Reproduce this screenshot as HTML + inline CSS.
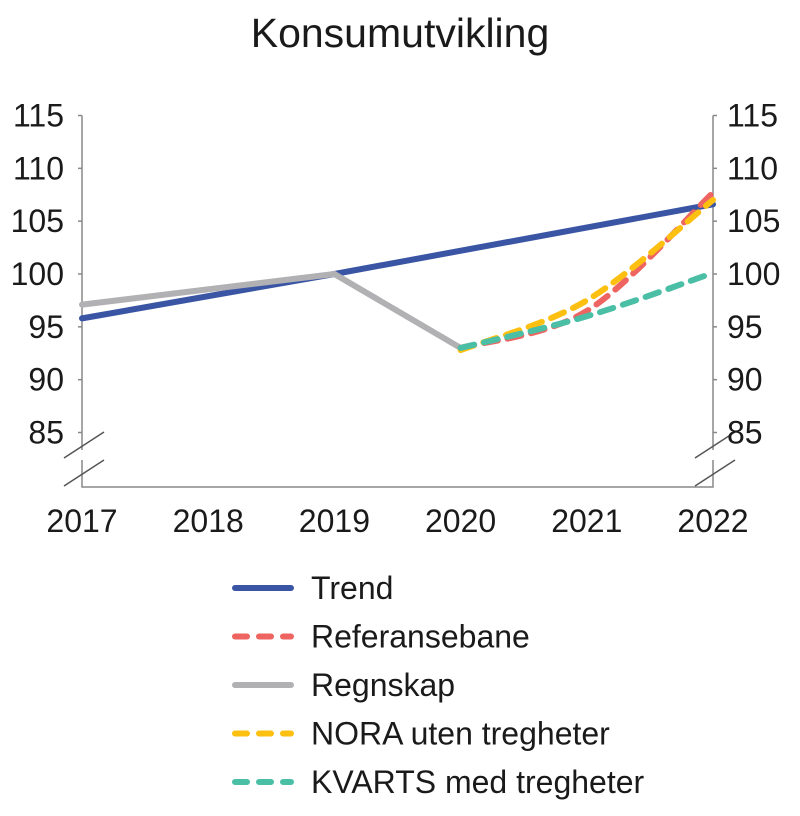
<!DOCTYPE html>
<html><head><meta charset="utf-8"><style>
body{margin:0;background:#fff;}
svg text{font-family:"Liberation Sans",sans-serif;fill:#1a1a1a;}
</style></head><body>
<svg width="800" height="811" viewBox="0 0 800 811">
<text x="400" y="47" font-size="41" text-anchor="middle">Konsumutvikling</text>
<g id="axes"></g>
<g id="series"></g>
<g id="legend"></g>
</svg>
<script>
const years=[2017,2018,2019,2020,2021,2022];
const yTicks=[85,90,95,100,105,110,115];
const trendX=[2017,2019,2022];
const trendY=[95.8,100,106.6];
const regnX=[2017,2019,2020];
const regnY=[97.1,100,93];
const refX=[2020,2021,2022];
const refY=[93,96.5,107.7];
const noraX=[2020,2021,2022];
const noraY=[92.8,97.5,107];
const kvX=[2020,2021,2022];
const kvY=[93,96,100.1];
const names=["Trend","Referansebane","Regnskap","NORA uten tregheter","KVARTS med tregheter"];

const NS="http://www.w3.org/2000/svg";
const x0=82,x1=713,yTop=115.5,yBot=432.5;
const xs=v=>x0+(v-2017)*(x1-x0)/5;
const ys=v=>yBot-(v-85)*(yBot-yTop)/30;
function mk(tag,attrs,parent){const e=document.createElementNS(NS,tag);for(const k in attrs)e.setAttribute(k,attrs[k]);parent.appendChild(e);return e;}
const axes=document.getElementById('axes');
let l=mk('path',{d:`M${x0},${yTop} V450 M${x0},460 V487 H${x1} V460 M${x1},450 V${yTop}`,stroke:'#888',fill:'none','stroke-width':1.5},axes);


[x0,x1].forEach(x=>{
 const b=mk('path',{d:`M${x-18},458 L${x+22},432 M${x-18},486 L${x+22},460`,stroke:'#555','stroke-width':1.5,fill:'none'},axes);
 
 
});
yTicks.forEach(v=>{
 const y=ys(v);
 let t=mk('line',{x1:x0-4,x2:x0,y1:y,y2:y,stroke:'#888','stroke-width':1.5},axes);
 
 
 t=mk('line',{x1:x1,x2:x1+4,y1:y,y2:y,stroke:'#888','stroke-width':1.5},axes);
 
 
 let tx=mk('text',{x:64,y:y+11,'font-size':32,'text-anchor':'end'},axes);tx.textContent=v;
 
 
 tx=mk('text',{x:727,y:y+11,'font-size':32},axes);tx.textContent=v;
 
 
});
years.forEach(v=>{
 const tx=mk('text',{x:xs(v),y:532,'font-size':32,'text-anchor':'middle'},axes);tx.textContent=v;
 
 
});
function curve(X,Y,smooth){
 const p=X.map((x,i)=>[xs(x),ys(Y[i])]);
 if(!smooth||p.length<3)return 'M'+p.map(q=>q.join(',')).join(' L');
 let d=`M${p[0][0]},${p[0][1]}`;
 for(let i=0;i<p.length-1;i++){
  const a=p[Math.max(i-1,0)],b=p[i],c=p[i+1],e=p[Math.min(i+2,p.length-1)];
  const c1=[b[0]+(c[0]-a[0])/6,b[1]+(c[1]-a[1])/6],c2=[c[0]-(e[0]-b[0])/6,c[1]-(e[1]-b[1])/6];
  d+=` C${c1[0]},${c1[1]} ${c2[0]},${c2[1]} ${c[0]},${c[1]}`;
 }
 return d;
}
const ser=document.getElementById('series');
const defs=[
 {X:trendX,Y:trendY,c:'#3a55a4',dash:null,s:false,n:'trend-line'},
 {X:regnX,Y:regnY,c:'#b1b1b4',dash:null,s:false,n:'regnskap-line'},
 {X:refX,Y:refY,c:'#ee6461',dash:'14 10',s:true,n:'referansebane-line'},
 {X:noraX,Y:noraY,c:'#fdbf10',dash:'14 10',s:true,n:'nora-line'},
 {X:kvX,Y:kvY,c:'#4bbfa5',dash:'14 10',s:true,n:'kvarts-line'}
];
defs.forEach(o=>{
 const a={d:curve(o.X,o.Y,o.s),stroke:o.c,'stroke-width':6,fill:'none','stroke-linecap':'round'};
 if(o.dash)a['stroke-dasharray']=o.dash;
 const p=mk('path',a,ser);
 
 
});
const leg=document.getElementById('legend');
const legOrder=[0,2,1,3,4];
names.forEach((n,i)=>{
 const o=defs[legOrder[i]];const y=588+i*48.5;
 const a={x1:235,x2:291,y1:y,y2:y,stroke:o.c,'stroke-width':6,'stroke-linecap':'round'};
 if(o.dash)a['stroke-dasharray']='12 12';
 const ln=mk('line',a,leg);
 
 
 const t=mk('text',{x:311,y:y+11,'font-size':32},leg);t.textContent=n;
 
 
});
</script>
</body></html>
